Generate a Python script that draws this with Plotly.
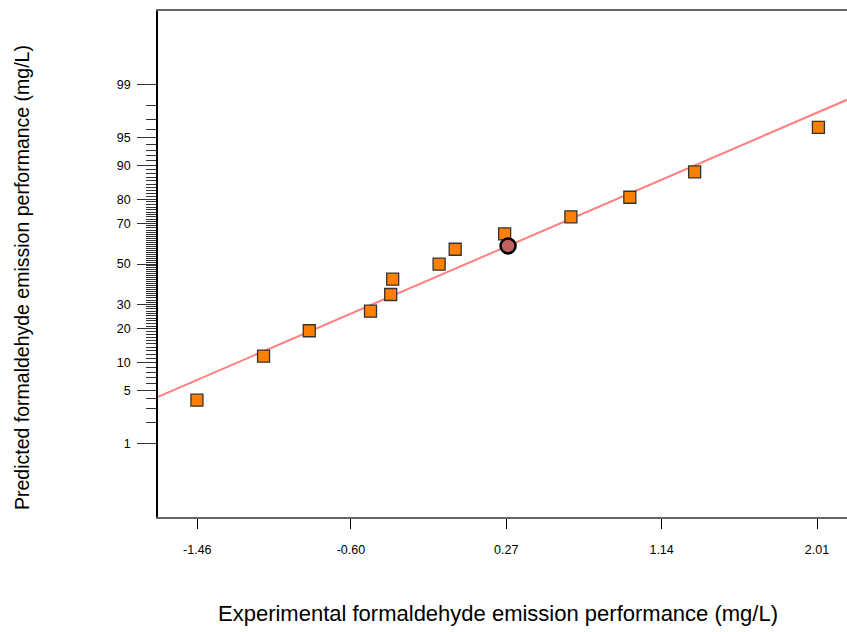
import plotly.graph_objects as go
from statistics import NormalDist

# ---- data ----
exp_x = [-1.462, -1.089, -0.833, -0.490, -0.377, -0.366, -0.106, -0.016,
         0.261, 0.632, 0.962, 1.325, 2.018]
pred_pct = [3.85, 11.56, 19.3, 27.0, 34.6, 42.2, 49.9, 57.6,
            65.2, 73.0, 80.7, 88.4, 96.2]
hl_x = [0.280]
hl_pct = [59.3]
line_x = [-1.680, 2.178]
line_pct = [4.24, 98.35]

x_tickvals = [-1.46, -0.60, 0.27, 1.14, 2.01]
x_ticktext = ["-1.46", "-0.60", "0.27", "1.14", "2.01"]
y_major_pct = [1, 5, 10, 20, 30, 50, 70, 80, 90, 95, 99]
y_minor_pct = [p for p in range(1, 100) if p not in y_major_pct]

nd = NormalDist()
def z(p):
    return nd.inv_cdf(p / 100.0)

fig = go.Figure()
fig.add_trace(go.Scatter(
    x=line_x, y=[z(p) for p in line_pct], mode="lines",
    line=dict(color="#FF8080", width=2), hoverinfo="skip", showlegend=False))
fig.add_trace(go.Scatter(
    x=exp_x, y=[z(p) for p in pred_pct], mode="markers",
    marker=dict(symbol="square", size=12, color="#FF8000",
                line=dict(color="#333333", width=1.3)),
    showlegend=False))
fig.add_trace(go.Scatter(
    x=hl_x, y=[z(p) for p in hl_pct], mode="markers",
    marker=dict(symbol="circle", size=15, color="#C06060",
                line=dict(color="#000000", width=2.5)),
    showlegend=False))

font_family = "Arial, 'Liberation Sans', sans-serif"

fig.update_layout(
    width=847, height=632,
    margin=dict(l=158, r=0, t=11, b=115, pad=0),
    paper_bgcolor="white", plot_bgcolor="white",
    font=dict(family=font_family, color="#000000", size=12),
    xaxis=dict(
        range=[-1.680, 2.178], showgrid=False, zeroline=False,
        showline=True, linecolor="#666666", linewidth=1.5, mirror=True,
        tickmode="array", tickvals=x_tickvals, ticktext=x_ticktext,
        ticks="outside", ticklen=10, tickcolor="#000000", tickwidth=1,
        ticklabelstandoff=10,
        tickfont=dict(size=12.5, family=font_family, color="#000000"),
    ),
    yaxis=dict(
        range=[-3.285, 3.285], showgrid=False, zeroline=False,
        showline=True, linecolor="#000000", linewidth=1.5,
        tickmode="array", tickvals=[z(p) for p in y_major_pct],
        ticktext=[str(p) for p in y_major_pct],
        ticks="outside", ticklen=19, tickcolor="#333333", tickwidth=1,
        ticklabelstandoff=4,
        tickfont=dict(size=12.5, family=font_family, color="#000000"),
        minor=dict(tickmode="array", tickvals=[z(p) for p in y_minor_pct],
                   ticks="outside", ticklen=10, tickcolor="#333333", tickwidth=1),
    ),
    annotations=[
        dict(text="Experimental formaldehyde emission performance (mg/L)",
             xref="paper", yref="paper", x=(498 - 158) / 689, y=-(613 - 517) / 506,
             xanchor="center", yanchor="middle", showarrow=False,
             font=dict(size=22, family=font_family, color="#000000")),
        dict(text="Predicted formaldehyde emission performance (mg/L)",
             xref="paper", yref="paper", x=(22 - 158) / 689, y=(517 - 278) / 506,
             xanchor="center", yanchor="middle", showarrow=False, textangle=-90,
             font=dict(size=19.5, family=font_family, color="#000000")),
    ],
)

fig.write_html("out.html")
